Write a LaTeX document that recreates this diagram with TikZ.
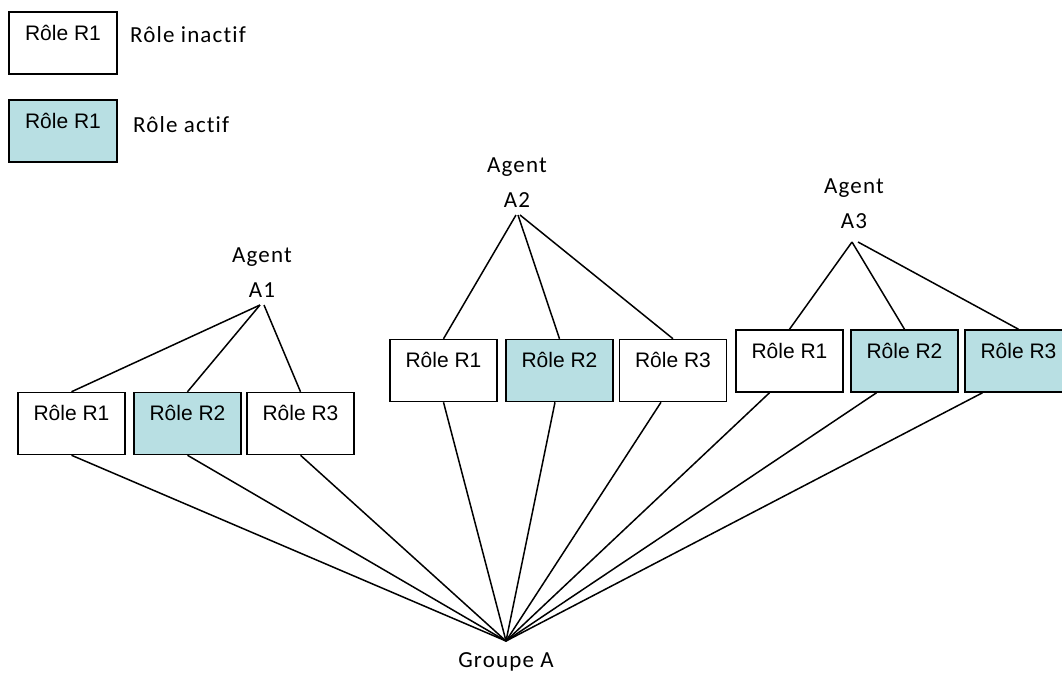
\documentclass[tikz,border=0pt]{standalone}
\usepackage{fontspec}
\setmainfont{Carlito}
\newfontfamily\arialfont{Liberation Sans}
\newfontfamily\calfont[LetterSpace=5,Ligatures=NoCommon]{Carlito}
\definecolor{actif}{RGB}{184,223,227}
\begin{document}
\begin{tikzpicture}[x=1pt,y=-1pt,
  rolebox/.style={draw=black, line width=1.5pt, rectangle, inner sep=0pt,
    minimum width=107pt, text height=28pt, text depth=34pt,
    font=\arialfont\fontsize{21}{24}\selectfont},
  activebox/.style={rolebox, fill=actif},
  agentlbl/.style={align=center, inner sep=0pt, font=\calfont\fontsize{23}{35}\selectfont},
  txt/.style={inner sep=0pt, font=\calfont\fontsize{23}{28}\selectfont},
  link/.style={line width=1.5pt, black}]
\useasboundingbox (0,0) rectangle (1062,673);
\clip (0,0) rectangle (1062,673);

% legend
\node[rolebox, minimum width=108pt] (leg1) at (63,43) {Rôle R1};
\node[activebox, minimum width=108pt] (leg2) at (63,131) {Rôle R1};
\node[txt, anchor=base west] (leg1t) at (130,42) {Rôle inactif};
\node[txt, anchor=base west] (leg2t) at (133,132) {Rôle actif};

% agent A1
\node[rolebox] (a1r1) at (71.5,423.5) {Rôle R1};
\node[activebox] (a1r2) at (187.5,423.5) {Rôle R2};
\node[rolebox] (a1r3) at (300.5,423.5) {Rôle R3};
\node[agentlbl, anchor=base] (a1lbl) at (262,297) {Agent\\A1};
\coordinate (a1) at (260,305);

% agent A2
\node[rolebox] (a2r1) at (443.5,370.5) {Rôle R1};
\node[activebox] (a2r2) at (559.5,370.5) {Rôle R2};
\node[rolebox] (a2r3) at (673,370.5) {Rôle R3};
\node[agentlbl, anchor=base] (a2lbl) at (517,207) {Agent\\A2};
\coordinate (a2) at (517,215);

% agent A3
\node[rolebox] (a3r1) at (789.5,361) {Rôle R1};
\node[activebox] (a3r2) at (904.5,361) {Rôle R2};
\node[activebox] (a3r3) at (1018.5,361) {Rôle R3};
\node[agentlbl, anchor=base] (a3lbl) at (854,228) {Agent\\A3};
\coordinate (a3) at (852,242);

% groupe
\coordinate (g) at (506,641);
\node[txt, anchor=base] (glbl) at (506,667) {Groupe A};

% agent links
\draw[link] (a1) -- (a1r1.north);
\draw[link] (a1) -- (a1r2.north);
\draw[link] ([xshift=4pt]a1) -- (a1r3.north);
\draw[link] ([xshift=-1pt]a2) -- (a2r1.north);
\draw[link] ([xshift=1pt]a2) -- (a2r2.north);
\draw[link] ([xshift=3pt]a2) -- (a2r3.north);
\draw[link] (a3) -- (a3r1.north);
\draw[link] (a3) -- (a3r2.north);
\draw[link] ([xshift=6pt]a3) -- (a3r3.north);

% group links
\draw[link] (a1r1.south) -- (g);
\draw[link] (a1r2.south) -- (g);
\draw[link] (a1r3.south) -- (g);
\draw[link] (a2r1.south) -- (g);
\draw[link] ([xshift=-4.5pt]a2r2.south) -- (g);
\draw[link] ([xshift=-12pt]a2r3.south) -- (g);
\draw[link] ([xshift=-20pt]a3r1.south) -- (g);
\draw[link] ([xshift=-28pt]a3r2.south) -- (g);
\draw[link] ([xshift=-36pt]a3r3.south) -- (g);
\end{tikzpicture}
\end{document}
